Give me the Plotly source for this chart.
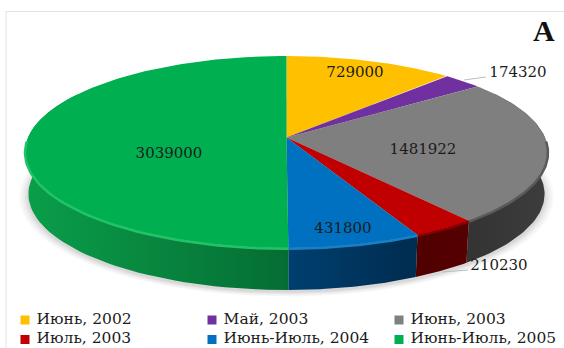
import numpy as np
import plotly.graph_objects as go

categories = ["Июнь, 2002", "Май, 2003", "Июнь, 2003", "Июль, 2003", "Июнь-Июль, 2004", "Июнь-Июль, 2005"]
values = [729000, 174320, 1481922, 210230, 431800, 3039000]
top_colors = ["#FFC000", "#7030A0", "#7F7F7F", "#C00000", "#0070C0", "#00B050"]
wall_left = ["#8a6800", "#3c1a56", "#333333", "#4f0000", "#003f70", "#0a9e4a"]
wall_right = ["#8a6800", "#3c1a56", "#3d3d3d", "#560000", "#002c4f", "#056d33"]
rim_colors = ["#FFC000", "#7030A0", "#5a5a5a", "#8a0000", "#1a7fc4", "#22c269"]

# label placement in pixels
label_xy = [(355, 73), (518, 73), (423, 150), (499, 266), (343, 229), (169, 154)]
FONT = "DejaVu Serif"
LABEL_SIZE = 15

# projection of the tilted disc, pixel space
AX, AY = 286.5, 137.5
B, A, C = 0.151, 93.8, 258.5
DEPTH = 42
WALL_X = 0.987

def project(theta, r=1.0, shift=0.0, xs=1.0):
    u, v = r * np.sin(theta), r * np.cos(theta)
    d = 1 + B * v
    return AX + xs * C * u / d, AY - A * v / d + shift

cum = np.cumsum([0] + values) / sum(values) * 2 * np.pi
fig = go.Figure()
def poly(x, y, color, **kw):
    fig.add_trace(go.Scatter(x=list(x), y=list(y), mode="lines", fill="toself", fillcolor=color,
                             line=dict(width=0), hoverinfo="skip", showlegend=False, **kw))

# soft shadow
t = np.linspace(0, 2 * np.pi, 180)
for grow, alpha in [(1.035, .035), (1.028, .04), (1.02, .05), (1.012, .06), (1.005, .07)]:
    sx, sy = project(t, grow, DEPTH + 2, WALL_X)
    poly(sx, sy, f"rgba(90,90,90,{alpha})")

# side walls
for i in range(len(values)):
    lo, hi = max(cum[i], np.radians(60)), min(cum[i + 1], np.radians(300))
    if hi <= lo:
        continue
    th = np.linspace(lo, hi, 60)
    x1, y1 = project(th)
    x2, y2 = project(th[::-1], 1.0, DEPTH, WALL_X)
    xs, ys = np.r_[x1, x2], np.r_[y1, y2]
    fig.add_trace(go.Scatter(x=xs, y=ys, mode="lines", fill="toself", line=dict(width=0),
                             fillgradient=dict(type="horizontal", start=float(xs.min()), stop=float(xs.max()),
                                               colorscale=[[0, wall_left[i]], [1, wall_right[i]]]),
                             hoverinfo="skip", showlegend=False))

# top faces
for i in range(len(values)):
    th = np.linspace(cum[i], cum[i + 1], 120)
    x, y = project(th)
    poly(np.r_[AX, x, AX], np.r_[AY, y, AY], top_colors[i])

# rim highlight on the front edge
for i in range(len(values)):
    lo, hi = max(cum[i], np.radians(92)), min(cum[i + 1], np.radians(268))
    if hi <= lo:
        continue
    th = np.linspace(lo, hi, 60)
    x, y = project(th, 1.0, 0.8)
    fig.add_trace(go.Scatter(x=x, y=y, mode="lines", line=dict(color=rim_colors[i], width=2.5),
                             hoverinfo="skip", showlegend=False))

# leader lines
for lx, ly in [((464, 486), (80, 77)), ((442, 468), (272, 270))]:
    fig.add_trace(go.Scatter(x=lx, y=ly, mode="lines", line=dict(color="#bdbdbd", width=1),
                             hoverinfo="skip", showlegend=False))

# value labels
fig.add_trace(go.Scatter(x=[p[0] for p in label_xy], y=[p[1] for p in label_xy], mode="text",
                         text=[str(v) for v in values], textposition="middle center",
                         textfont=dict(family=FONT, size=LABEL_SIZE, color="#1c1c1c"),
                         hoverinfo="skip", showlegend=False))

# legend
col_x, row_y = [25, 212, 399], [320, 339.5]
for i, name in enumerate(categories):
    fig.add_trace(go.Scatter(x=[col_x[i % 3]], y=[row_y[i // 3]], mode="markers+text", text=[" " + name],
                             textposition="middle right", cliponaxis=False,
                             marker=dict(symbol="square", size=9, color=top_colors[i]),
                             textfont=dict(family=FONT, size=15.5, color="#1c1c1c"),
                             hoverinfo="skip", showlegend=False))

fig.add_annotation(x=544, y=30, text="<b>A</b>", showarrow=False,
                   font=dict(family="Liberation Serif", size=30, color="#111111"))

line = dict(color="#e2e2e2", width=1)
fig.add_shape(type="line", x0=6, x1=564, y0=11.5, y1=11.5, line=line, layer="below")
fig.add_shape(type="line", x0=6, x1=6, y0=11.5, y1=348, line=line, layer="below")

fig.update_xaxes(range=[0, 564], visible=False, fixedrange=True)
fig.update_yaxes(range=[348, 0], visible=False, fixedrange=True)
fig.update_layout(width=564, height=348, margin=dict(l=0, r=0, t=0, b=0), autosize=False,
                  paper_bgcolor="white", plot_bgcolor="white", showlegend=False)
fig.write_html("out.html", config=dict(displayModeBar=False),
               post_script="document.documentElement.style.overflow='hidden';document.body.style.margin='0';")
